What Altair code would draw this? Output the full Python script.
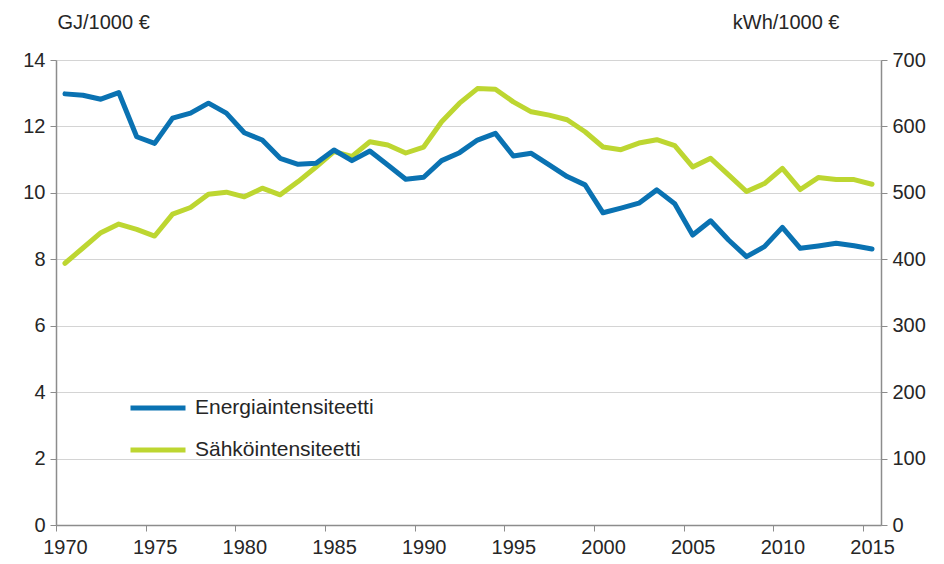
import altair as alt
import pandas as pd

years = list(range(1970, 2016))
energia = [12.98, 12.94, 12.82, 13.02, 11.69, 11.49, 12.25, 12.40, 12.70, 12.40,
           11.81, 11.59, 11.04, 10.86, 10.89, 11.29, 10.97, 11.26, 10.84, 10.41,
           10.47, 10.97, 11.21, 11.59, 11.79, 11.11, 11.19, 10.84, 10.49, 10.24,
           9.40, 9.54, 9.69, 10.09, 9.67, 8.73, 9.16, 8.58, 8.08, 8.38,
           8.96, 8.33, 8.40, 8.48, 8.41, 8.31]
sahko = [394, 417, 440, 453, 445, 435, 468, 478, 498, 501,
         494, 507, 497, 517, 539, 562, 555, 577, 572, 560,
         569, 607, 635, 657, 656, 637, 622, 617, 610, 592,
         569, 565, 575, 580, 571, 539, 552, 527, 502, 514,
         537, 505, 523, 520, 520, 513]
series_names = ["Energiaintensiteetti", "Sähköintensiteetti"]
series_colors = ["#0a72b2", "#bdd631"]
left_ticks = [0, 2, 4, 6, 8, 10, 12, 14]
right_ticks = [0, 100, 200, 300, 400, 500, 600, 700]
x_ticks = [1969.5, 1974.5, 1979.5, 1984.5, 1989.5, 1994.5, 1999.5, 2004.5, 2009.5, 2014.5]

df = pd.DataFrame({
    "year": years * 2,
    "value": energia + sahko,
    "series": [series_names[0]] * len(years) + [series_names[1]] * len(years),
})

FONT = "Liberation Sans"
AXIS_COLOR = "#8c8c8c"
TEXT_COLOR = "#262626"
TICK_FS = 20
TITLE_FS = 20

x_enc = alt.X(
    "year:Q",
    scale=alt.Scale(domain=[1969.5, 2015.5], nice=False, zero=False),
    axis=alt.Axis(values=x_ticks, labelExpr="'' + (datum.value + 0.5)", labelOffset=9,
                  labelFlush=False, labelOverlap=False,
                  title=None, grid=False, tickSize=6, labelPadding=6,
                  domainColor=AXIS_COLOR, tickColor=AXIS_COLOR, labelColor=TEXT_COLOR,
                  labelFontSize=TICK_FS, labelFont=FONT, domainWidth=1.5),
)

color_enc = alt.Color(
    "series:N",
    scale=alt.Scale(domain=series_names, range=series_colors),
    legend=alt.Legend(title=None, orient="none", legendX=72, legendY=318,
                      symbolType="stroke", symbolSize=3025, symbolStrokeWidth=5,
                      labelFontSize=21, labelFont=FONT, labelColor=TEXT_COLOR,
                      labelOffset=7, rowPadding=2, padding=0, labelLimit=0),
)

base = alt.Chart(df)

left = base.transform_filter(alt.datum.series == series_names[0]).mark_line(
    strokeWidth=5, strokeJoin="round", strokeCap="round"
).encode(
    x=x_enc,
    y=alt.Y("value:Q", scale=alt.Scale(domain=[0, 14], nice=False),
            axis=alt.Axis(values=left_ticks, title="GJ/1000 €", titleAngle=0,
                          titleAlign="left", titleX=1, titleY=-38, titleBaseline="middle",
                          titleFontWeight="normal", titleFontSize=TITLE_FS, titleFont=FONT,
                          titleColor=TEXT_COLOR, grid=True, gridColor="#d4d4d4",
                          tickSize=6, labelPadding=5, domainColor=AXIS_COLOR,
                          tickColor=AXIS_COLOR, labelColor=TEXT_COLOR,
                          labelFontSize=TICK_FS, labelFont=FONT, domainWidth=1.5)),
    color=color_enc,
)

right = base.transform_filter(alt.datum.series == series_names[1]).mark_line(
    strokeWidth=5, strokeJoin="round", strokeCap="round"
).encode(
    x=x_enc,
    y=alt.Y("value:Q", scale=alt.Scale(domain=[0, 700], nice=False),
            axis=alt.Axis(orient="right", values=right_ticks, title="kWh/1000 €",
                          titleAngle=0, titleAlign="right", titleX=-42, titleY=-38,
                          titleBaseline="middle", titleFontWeight="normal",
                          titleFontSize=TITLE_FS, titleFont=FONT, titleColor=TEXT_COLOR,
                          grid=False, tickSize=6, labelPadding=5,
                          domainColor=AXIS_COLOR, tickColor=AXIS_COLOR,
                          labelColor=TEXT_COLOR, labelFontSize=TICK_FS, labelFont=FONT,
                          domainWidth=1.5)),
    color=color_enc,
)

chart = alt.layer(right, left).resolve_scale(y="independent").properties(
    width=825, height=465,
    autosize=alt.AutoSizeParams(type="none"),
    padding={"left": 48, "top": 52, "right": 55, "bottom": 31},
).configure_view(stroke=None).configure(background="white")

chart.save("out.html", embed_options={"renderer": "svg", "actions": False})
